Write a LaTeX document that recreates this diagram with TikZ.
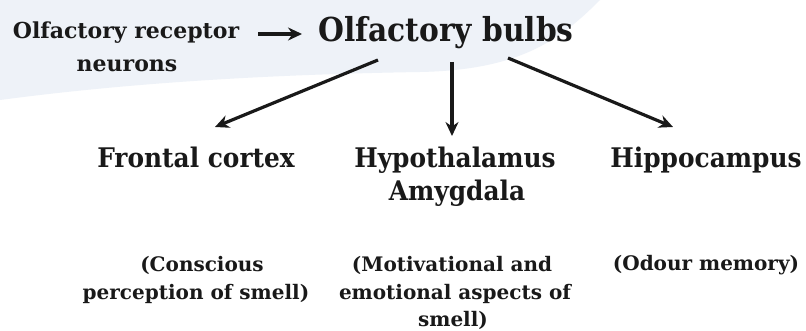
\documentclass[tikz,border=0pt]{standalone}
\usepackage{fontspec}
\setmainfont{DejaVu Serif}
\newfontfamily\bigf{DejaVu Serif}[FakeStretch=0.9]
\newfontfamily\midf{DejaVu Serif}[FakeStretch=0.92]
\usetikzlibrary{arrows.meta}
\definecolor{swoosh}{RGB}{238,242,248}
\tikzset{
  lbl/.style={inner sep=0pt, anchor=base, text=black!90},
  big/.style={lbl, font=\fontsize{33}{36}\selectfont\bigf\bfseries},
  mid/.style={lbl, font=\fontsize{27}{31}\selectfont\midf\bfseries},
  top/.style={lbl, font=\fontsize{22}{30}\selectfont\bfseries},
  note/.style={lbl, font=\fontsize{20}{27}\selectfont\bfseries},
  arr/.style={line width=3.2pt, draw=black!90, -{Stealth[length=14pt,width=13pt]}}
}
\begin{document}
\begin{tikzpicture}[x=1pt,y=-1pt]
\useasboundingbox (0,0) rectangle (806,331);
\fill[white] (0,0) rectangle (806,331);
\fill[swoosh] (0,0) -- (600,0) .. controls (560,40) and (520,70) .. (420,72) .. controls (300,74) and (150,80) .. (0,100) -- cycle;
% top row
\node[top] (orn1) at (126,39) {Olfactory receptor};
\node[top] (orn2) at (127,72) {neurons};
\node[big] (ob) at (446,42) {Olfactory bulbs};
% second row
\node[mid] (fc) at (196,168) {Frontal cortex};
\node[mid] (hy) at (455,168) {Hypothalamus};
\node[mid] (am) at (457,201) {Amygdala};
\node[mid] (hc) at (706,168) {Hippocampus};
% notes
\node[note] (n1a) at (202,272) {(Conscious};
\node[note] (n1b) at (196,299) {perception of smell)};
\node[note] (n2a) at (452,272) {(Motivational and};
\node[note] (n2b) at (455,299) {emotional aspects of};
\node[note] (n2c) at (453,326) {smell)};
\node[note] (n3) at (706,270) {(Odour memory)};
% arrows
\coordinate (a0s) at (258,34);
\coordinate (a0e) at (302,34);
\coordinate (a1s) at (378,60);
\coordinate (a1e) at (215,127);
\coordinate (a2s) at (452,62);
\coordinate (a2e) at (452,136);
\coordinate (a3s) at (508,58);
\coordinate (a3e) at (673,127);
\draw[arr] (a0s) -- (a0e);
\draw[arr] (a1s) -- (a1e);
\draw[arr] (a2s) -- (a2e);
\draw[arr] (a3s) -- (a3e);
\end{tikzpicture}
\end{document}
